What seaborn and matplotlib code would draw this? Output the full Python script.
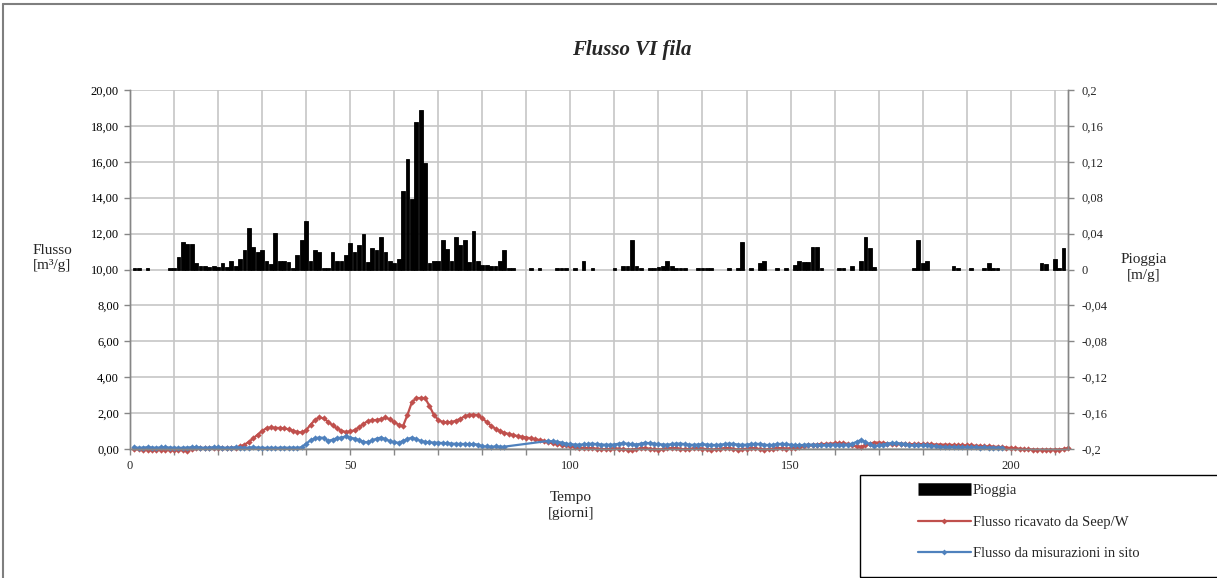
import matplotlib
matplotlib.use("Agg")
import matplotlib.pyplot as plt
from matplotlib.lines import Line2D
from matplotlib.patches import Rectangle
from matplotlib.ticker import MultipleLocator, FixedLocator, FuncFormatter
import seaborn as sns
import pandas as pd

# ---------------- data ----------------
rain_days = [1, 2, 4, 9, 10, 11, 12, 13, 14, 15, 16, 17, 18, 19, 20, 21, 22, 23, 24, 25,
             26, 27, 28, 29, 30, 31, 32, 33, 34, 35, 36, 37, 38, 39, 40, 41, 42, 43, 44, 45,
             46, 47, 48, 49, 50, 51, 52, 53, 54, 55, 56, 57, 58, 59, 60, 61, 62, 63, 64, 65,
             66, 67, 68, 69, 70, 71, 72, 73, 74, 75, 76, 77, 78, 79, 80, 81, 82, 83, 84, 85,
             86, 87, 91, 93, 97, 98, 99, 101, 103, 105, 110, 112, 113, 114, 115, 116, 118, 119, 120, 121,
             122, 123, 124, 125, 126, 129, 130, 131, 132, 136, 138, 139, 141, 143, 144, 147, 149, 151, 152, 153,
             154, 155, 156, 157, 161, 162, 164, 166, 167, 168, 169, 178, 179, 180, 181, 187, 188, 191, 194, 195,
             196, 197, 207, 208, 210, 211, 212]
rain_vals = [0.002, 0.002, 0.002, 0.002, 0.002, 0.014, 0.031, 0.028, 0.028, 0.007, 0.004, 0.004, 0.003, 0.004, 0.003, 0.007, 0.003, 0.010, 0.004, 0.012,
             0.022, 0.046, 0.025, 0.020, 0.022, 0.009, 0.006, 0.041, 0.009, 0.009, 0.008, 0.002, 0.016, 0.033, 0.054, 0.010, 0.022, 0.019, 0.002, 0.002,
             0.019, 0.010, 0.009, 0.016, 0.029, 0.019, 0.027, 0.039, 0.008, 0.024, 0.022, 0.036, 0.019, 0.010, 0.007, 0.012, 0.087, 0.123, 0.078, 0.164,
             0.178, 0.119, 0.007, 0.009, 0.009, 0.033, 0.023, 0.010, 0.036, 0.027, 0.033, 0.008, 0.043, 0.010, 0.005, 0.005, 0.004, 0.004, 0.010, 0.022,
             0.002, 0.002, 0.002, 0.002, 0.002, 0.002, 0.002, 0.002, 0.010, 0.002, 0.002, 0.004, 0.004, 0.033, 0.004, 0.002, 0.002, 0.002, 0.003, 0.004,
             0.010, 0.004, 0.002, 0.002, 0.002, 0.002, 0.002, 0.002, 0.002, 0.002, 0.002, 0.031, 0.002, 0.007, 0.010, 0.002, 0.002, 0.005, 0.009, 0.008,
             0.008, 0.025, 0.025, 0.002, 0.002, 0.002, 0.004, 0.009, 0.036, 0.024, 0.003, 0.002, 0.033, 0.007, 0.010, 0.004, 0.002, 0.002, 0.002, 0.007,
             0.002, 0.002, 0.007, 0.006, 0.012, 0.002, 0.024]

seep_days = list(range(1, 214))
seep_vals = [0.02, -0.02, -0.03, -0.03, -0.03, -0.03, -0.03, -0.04, -0.04, -0.04,
             -0.05, -0.06, -0.10, 0.02, 0.04, 0.05, 0.05, 0.05, 0.05, 0.05,
             0.05, 0.05, 0.06, 0.08, 0.14, 0.24, 0.40, 0.60, 0.80, 1.00,
             1.16, 1.20, 1.18, 1.17, 1.15, 1.10, 1.02, 0.95, 0.92, 1.05,
             1.35, 1.62, 1.76, 1.70, 1.52, 1.32, 1.15, 1.02, 0.95, 0.98,
             1.05, 1.20, 1.40, 1.55, 1.60, 1.62, 1.66, 1.76, 1.65, 1.50,
             1.35, 1.28, 1.90, 2.60, 2.84, 2.84, 2.84, 2.40, 1.90, 1.62,
             1.50, 1.48, 1.50, 1.58, 1.68, 1.82, 1.90, 1.92, 1.88, 1.72,
             1.50, 1.30, 1.12, 1.00, 0.90, 0.84, 0.78, 0.72, 0.68, 0.64,
             0.60, 0.55, 0.50, 0.45, 0.38, 0.32, 0.28, 0.24, 0.20, 0.16,
             0.12, 0.08, 0.06, 0.05, 0.04, 0.02, 0.00, -0.02, 0.01, 0.04,
             0.02, -0.02, -0.04, -0.03, 0.00, 0.04, 0.05, 0.02, -0.02, -0.03,
             -0.01, 0.03, 0.05, 0.03, 0.00, -0.02, 0.00, 0.04, 0.05, 0.02,
             -0.01, -0.03, -0.02, 0.02, 0.05, 0.04, 0.00, -0.03, -0.02, 0.02,
             0.05, 0.03, 0.00, -0.03, -0.02, 0.02, 0.05, 0.04, 0.02, 0.05,
             0.08, 0.12, 0.16, 0.20, 0.23, 0.25, 0.27, 0.28, 0.30, 0.31,
             0.32, 0.32, 0.28, 0.20, 0.14, 0.13, 0.20, 0.30, 0.36, 0.36,
             0.33, 0.30, 0.28, 0.30, 0.30, 0.28, 0.27, 0.27, 0.28, 0.27,
             0.26, 0.26, 0.25, 0.25, 0.24, 0.24, 0.22, 0.22, 0.21, 0.20,
             0.20, 0.18, 0.17, 0.15, 0.14, 0.13, 0.12, 0.10, 0.08, 0.06,
             0.04, 0.02, 0.00, -0.02, -0.03, -0.04, -0.04, -0.04, -0.04, -0.03,
             -0.03, 0.00, 0.05]

site_days = list(range(1, 86)) + list(range(95, 199))
site_vals = [0.10, 0.06, 0.08, 0.10, 0.08, 0.07, 0.09, 0.10, 0.08, 0.07,
             0.06, 0.07, 0.08, 0.10, 0.10, 0.08, 0.07, 0.08, 0.10, 0.09,
             0.08, 0.07, 0.08, 0.09, 0.08, 0.07, 0.08, 0.09, 0.08, 0.07,
             0.06, 0.07, 0.06, 0.07, 0.08, 0.07, 0.08, 0.07, 0.10, 0.30,
             0.48, 0.60, 0.64, 0.62, 0.45, 0.52, 0.60, 0.64, 0.70, 0.64,
             0.58, 0.50, 0.40, 0.37, 0.48, 0.58, 0.64, 0.55, 0.44, 0.37,
             0.35, 0.45, 0.55, 0.64, 0.55, 0.45, 0.40, 0.37, 0.36, 0.35,
             0.33, 0.31, 0.30, 0.29, 0.28, 0.28, 0.27, 0.27, 0.25, 0.15,
             0.14, 0.13, 0.14, 0.13, 0.13,
             0.45, 0.43, 0.40, 0.36, 0.30, 0.27,
             0.25, 0.24, 0.26, 0.28, 0.30, 0.27, 0.25, 0.24, 0.24, 0.25,
             0.30, 0.32, 0.29, 0.27, 0.25, 0.30, 0.35, 0.32, 0.30, 0.27,
             0.25, 0.24, 0.27, 0.30, 0.30, 0.27, 0.24, 0.23, 0.25, 0.26,
             0.25, 0.23, 0.22, 0.24, 0.27, 0.30, 0.28, 0.25, 0.23, 0.24,
             0.27, 0.29, 0.28, 0.24, 0.22, 0.23, 0.27, 0.29, 0.27, 0.24,
             0.22, 0.21, 0.23, 0.25, 0.24, 0.22, 0.20, 0.22, 0.24, 0.25,
             0.24, 0.23, 0.25, 0.30, 0.40, 0.50, 0.40, 0.26, 0.15, 0.20,
             0.25, 0.30, 0.33, 0.33, 0.30, 0.28, 0.22, 0.20, 0.20, 0.21,
             0.20, 0.19, 0.16, 0.13, 0.12, 0.11, 0.12, 0.10, 0.09, 0.10,
             0.10, 0.09, 0.08, 0.09, 0.08, 0.08, 0.08, 0.08]

title = "Flusso VI fila"
legend_labels = ["Pioggia", "Flusso ricavato da Seep/W", "Flusso da misurazioni in sito"]

# ---------------- style ----------------
sns.set_theme(style="white")
plt.rcParams["font.family"] = ["Liberation Serif", "DejaVu Serif"]

RED = "#C0504D"
BLUE = "#4F81BD"
GRID = "#c6c6c6"
AXC = "#868686"

W, H = 1217, 578
fig = plt.figure(figsize=(W / 100, H / 100), dpi=100)
fig.patch.set_facecolor("white")

L, R, T, B = 130, 1068, 90, 449
ax = fig.add_axes([L / W, 1 - B / H, (R - L) / W, (B - T) / H])
ax2 = ax.twinx()

# lines (left axis)
df_seep = pd.DataFrame({"day": seep_days, "q": seep_vals})
df_site = pd.DataFrame({"day": site_days, "q": site_vals})
sns.lineplot(data=df_seep, x="day", y="q", ax=ax, color=RED, linewidth=1.6,
             marker="D", markersize=3.2, markeredgewidth=0, estimator=None, sort=True)
sns.lineplot(data=df_site, x="day", y="q", ax=ax, color=BLUE, linewidth=1.6,
             marker="D", markersize=3.2, markeredgewidth=0, estimator=None, sort=True)
for ln in ax.lines:
    ln.set_clip_on(False)

# bars (right axis)
df_rain = pd.DataFrame({"day": rain_days, "p": rain_vals})
sns.barplot(data=df_rain, x="day", y="p", ax=ax2, native_scale=True, color="black",
            width=0.85, edgecolor="black", linewidth=0.6, saturation=1)

# axes limits & ticks
ax.set_xlim(0, 213)
ax.set_ylim(0, 20)
ax2.set_ylim(-0.2, 0.2)
ax2.set_xlim(0, 213)

ax.xaxis.set_major_locator(FixedLocator([0, 50, 100, 150, 200]))
ax.xaxis.set_minor_locator(MultipleLocator(10))
ax.yaxis.set_major_locator(MultipleLocator(2))
ax2.yaxis.set_major_locator(FixedLocator([-0.2, -0.16, -0.12, -0.08, -0.04, 0, 0.04, 0.08, 0.12, 0.16, 0.2]))

ax.yaxis.set_major_formatter(FuncFormatter(lambda v, p: f"{v:.2f}".replace(".", ",")))
def rfmt(v, p):
    s = f"{v:.2f}".rstrip("0").rstrip(".")
    if s in ("-0", "0.", ""):
        s = "0"
    return s.replace(".", ",")
ax2.yaxis.set_major_formatter(FuncFormatter(rfmt))
ax.xaxis.set_major_formatter(FuncFormatter(lambda v, p: f"{int(v)}"))

ax.grid(True, which="both", axis="x", color=GRID, linewidth=1.2)
ax.grid(True, which="major", axis="y", color=GRID, linewidth=1.2)
ax.set_axisbelow(True)
ax2.grid(False)

for a in (ax, ax2):
    a.set_xlabel("")
    a.set_ylabel("")
    a.spines["top"].set_visible(False)
    for s in ("left", "right", "bottom"):
        a.spines[s].set_color(AXC)
        a.spines[s].set_linewidth(1.0)

ax.tick_params(axis="y", which="major", direction="out", length=4, width=1, color=AXC,
               labelsize=9, pad=4, left=True, labelcolor="black")
ax.tick_params(axis="x", which="both", direction="out", length=4, width=1, color=AXC,
               labelsize=9, pad=4, bottom=True)
ax2.tick_params(axis="y", direction="out", length=4, width=1, color=AXC, labelsize=9,
                pad=6, right=True)
ax2.tick_params(axis="x", bottom=False, labelbottom=False)

# texts
fig.text(632 / W, 1 - 50 / H, title, ha="center", va="center", fontsize=15,
         fontweight="bold", fontstyle="italic")
fig.text(52 / W, 1 - 258 / H, "Flusso\n[m³/g]", ha="center", va="center", fontsize=11,
         linespacing=1.3)
fig.text(1144 / W, 1 - 267 / H, "Pioggia\n[m/g]", ha="center", va="center", fontsize=11,
         linespacing=1.3)
fig.text(571 / W, 1 - 505 / H, "Tempo\n[giorni]", ha="center", va="center", fontsize=11,
         linespacing=1.3)

# legend
handles = [
    Line2D([0], [0], color="black", linewidth=9, solid_capstyle="butt"),
    Line2D([0], [0], color=RED, linewidth=1.6, marker="D", markersize=3, markeredgewidth=0),
    Line2D([0], [0], color=BLUE, linewidth=1.6, marker="D", markersize=3, markeredgewidth=0),
]
fig.legend(handles, legend_labels, loc="upper left",
           bbox_to_anchor=(918 / W, 1 - 484 / H), frameon=False, fontsize=10.5,
           handlelength=3.6, handletextpad=0.15, labelspacing=1.25, borderpad=0,
           borderaxespad=0, markerscale=1)
fig.patches.append(Rectangle((860 / W, 1.5 / H), 0.5, (577 - 475) / H,
                             transform=fig.transFigure, fill=False, edgecolor="black",
                             linewidth=1.0, figure=fig))

# outer chart border (top and left visible)
fig.lines.append(Line2D([3 / W, 1.0], [1 - 4 / H, 1 - 4 / H], transform=fig.transFigure,
                        color="#7f7f7f", linewidth=1.5, figure=fig))
fig.lines.append(Line2D([3 / W, 3 / W], [0.0, 1 - 4 / H], transform=fig.transFigure,
                        color="#7f7f7f", linewidth=1.5, figure=fig))

fig.savefig("out.png", dpi=100, facecolor="white")
